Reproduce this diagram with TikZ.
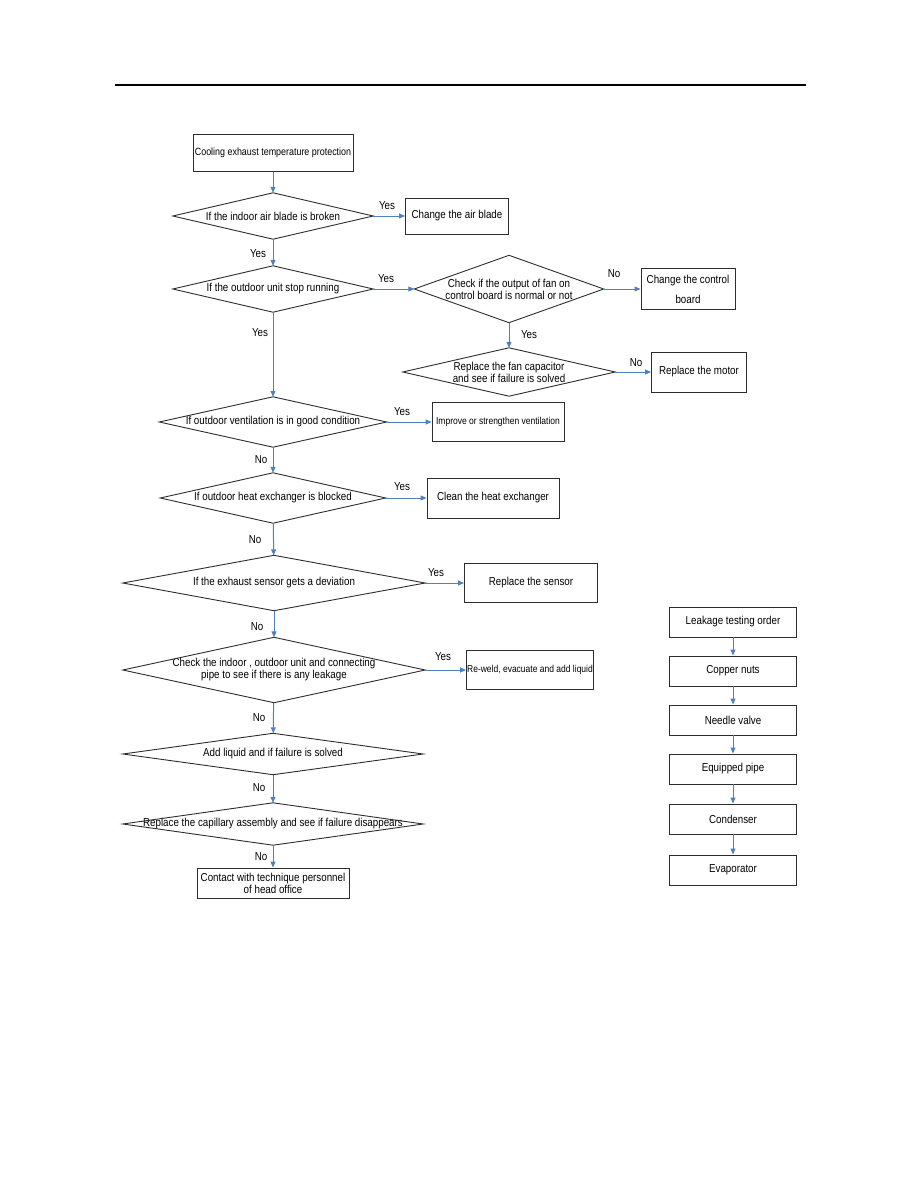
\documentclass[tikz,border=0pt]{standalone}
\usepackage{fontspec}
\setmainfont[FakeStretch=0.85]{Liberation Sans}
\usetikzlibrary{arrows.meta}
\definecolor{flowblue}{RGB}{79,129,189}
\definecolor{edgegray}{RGB}{45,45,45}

\begin{document}
\begin{tikzpicture}[
  x=1pt, y=-1pt,
  every node/.style={font=\fontsize{11.5}{12}\selectfont},
  small/.style={font=\fontsize{10}{12}\selectfont},
  box/.style 2 args={draw=edgegray, line width=0.9pt, minimum width=#1, minimum height=#2, inner sep=0pt, align=center},
  decision/.style 2 args={minimum width=#1, minimum height=#2, inner sep=0pt, align=center},
  lbl/.style={inner sep=0pt},
  arr/.style={draw=flowblue, line width=1pt, -{Triangle[length=6pt,width=5pt]}}
]
\useasboundingbox (0,0) rectangle (918,1188);
\draw[line width=1.3pt] (115,85) -- (806,85);

% main flow
\node[box={160pt}{37pt}, font=\fontsize{10.5}{12}\selectfont] (start) at (273,153) {Cooling exhaust temperature protection};
\node[decision={200pt}{46pt}] (d1) at (273,216) {If the indoor air blade is broken};
\node[box={103pt}{36pt}] (blade) at (457,216) {Change the air blade};
\node[decision={200pt}{46pt}] (d2) at (273,289) {If the outdoor unit stop running};
\node[decision={189pt}{67pt}] (d3) at (509,289) {Check if the output of fan on\\control board is normal or not};
\node[box={94pt}{41pt}] (board) at (688,289) {Change the control\\[8pt]board};
\node[decision={212pt}{48pt}] (d4) at (509,372) {Replace the fan capacitor\\and see if failure is solved};
\node[box={95pt}{40pt}] (motor) at (699,372) {Replace the motor};
\node[decision={227pt}{50pt}] (d5) at (273,422) {If outdoor ventilation is in good condition};
\node[box={132pt}{39pt}, small] (vent) at (498,422) {Improve or strengthen ventilation};
\node[decision={225pt}{50pt}] (d6) at (273,498) {If outdoor heat exchanger is blocked};
\node[box={132pt}{40pt}] (clean) at (493,498) {Clean the heat exchanger};
\node[decision={302pt}{55pt}] (d7) at (274,583) {If the exhaust sensor gets a deviation};
\node[box={133pt}{39pt}] (sensor) at (531,583) {Replace the sensor};
\node[decision={302pt}{65pt}] (d8) at (274,670) {Check the indoor , outdoor unit and connecting\\pipe to see if there is any leakage};
\node[box={127pt}{39pt}, small] (reweld) at (530,670) {Re-weld, evacuate and add liquid};
\node[decision={300pt}{41pt}] (d9) at (273,754) {Add liquid and if failure is solved};
\node[decision={300pt}{42pt}] (d10) at (273,824) {Replace the capillary assembly and see if failure disappears};
\node[box={152pt}{30pt}] (contact) at (273,883) {Contact with technique personnel\\of head office};

\foreach \d in {d1,d2,d3,d4,d5,d6,d7,d8,d9,d10}
  \draw[draw=edgegray, line width=0.9pt] (\d.west) -- (\d.north) -- (\d.east) -- (\d.south) -- cycle;

% leakage order
\node[box={127pt}{30pt}] (leak) at (733,622) {Leakage testing order};
\node[box={127pt}{30pt}] (nuts) at (733,671) {Copper nuts};
\node[box={127pt}{30pt}] (valve) at (733,720) {Needle valve};
\node[box={127pt}{30pt}] (pipe) at (733,769) {Equipped pipe};
\node[box={127pt}{30pt}] (cond) at (733,819) {Condenser};
\node[box={127pt}{30pt}] (evap) at (733,870) {Evaporator};

% labels
\node[lbl] (y1) at (387,206) {Yes};
\node[lbl] (y2) at (258,254) {Yes};
\node[lbl] (y3) at (386,279) {Yes};
\node[lbl] (n1) at (614,274) {No};
\node[lbl] (y4) at (529,335) {Yes};
\node[lbl] (n2) at (636,363) {No};
\node[lbl] (y5) at (260,333) {Yes};
\node[lbl] (y6) at (402,412) {Yes};
\node[lbl] (n3) at (261,460) {No};
\node[lbl] (y7) at (402,487) {Yes};
\node[lbl] (n4) at (255,540) {No};
\node[lbl] (y8) at (436,573) {Yes};
\node[lbl] (n5) at (257,627) {No};
\node[lbl] (y9) at (443,657) {Yes};
\node[lbl] (n6) at (259,718) {No};
\node[lbl] (n7) at (259,788) {No};
\node[lbl] (n8) at (261,857) {No};

\draw[arr] (start) -- (d1);
\draw[arr] (d1) -- (blade);
\draw[arr] (d1) -- (d2);
\draw[arr] (d2) -- (d3);
\draw[arr] (d3) -- (board);
\draw[arr] (d3) -- (d4);
\draw[arr] (d4) -- (motor);
\draw[arr] (d2) -- (d5);
\draw[arr] (d5) -- (vent);
\draw[arr] (d5) -- (d6);
\draw[arr] (d6) -- (clean);
\draw[arr] (d6) -- (d7);
\draw[arr] (d7) -- (sensor);
\draw[arr] (d7) -- (d8);
\draw[arr] (d8) -- (reweld);
\draw[arr] (d8) -- (d9);
\draw[arr] (d9) -- (d10);
\draw[arr] (d10) -- (contact);

\draw[arr] (leak) -- (nuts);
\draw[arr] (nuts) -- (valve);
\draw[arr] (valve) -- (pipe);
\draw[arr] (pipe) -- (cond);
\draw[arr] (cond) -- (evap);
\end{tikzpicture}
\end{document}
